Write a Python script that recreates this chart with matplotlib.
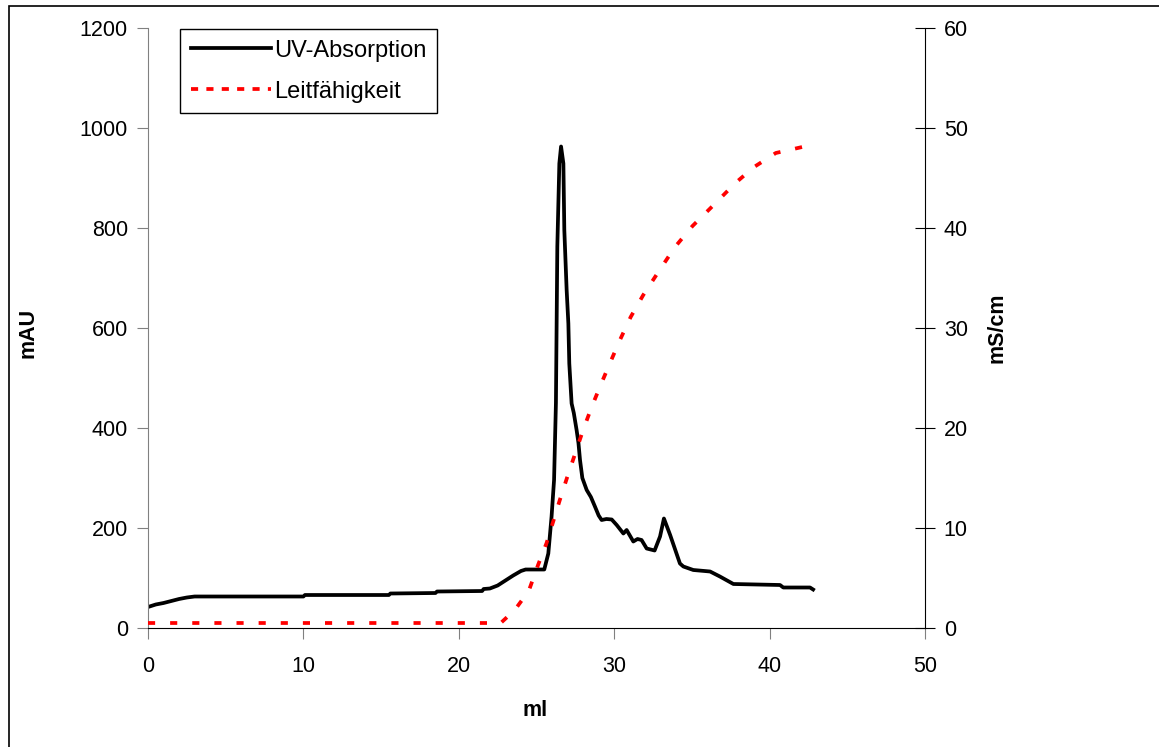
"""Chromatogram: UV absorption and conductivity over elution volume"""

import matplotlib
matplotlib.use("Agg")
import matplotlib.pyplot as plt
from matplotlib.lines import Line2D
from matplotlib.patches import Rectangle

plt.rcParams['font.family'] = ['Liberation Sans', 'DejaVu Sans']

# UV trace (ml, mAU)
uv_ml = [0.0, 0.5, 1.0, 1.5, 2.0, 2.5, 3.0, 10.0, 10.1, 15.5, 15.6, 18.5,
         18.6, 21.5, 21.6, 22.0, 22.5, 23.0, 23.5, 24.0, 24.3, 25.5, 25.76,
         25.97, 26.13, 26.25, 26.34, 26.47, 26.58, 26.73, 26.79, 26.94, 27.05,
         27.11, 27.26, 27.4, 27.58, 27.7, 27.8, 27.95, 28.23, 28.5, 28.76,
         29.0, 29.19, 29.5, 29.84, 30.16, 30.59, 30.8, 31.23, 31.5, 31.76,
         32.09, 32.6, 32.95, 33.2, 33.6, 34.23, 34.45, 35.09, 36.17, 36.8,
         37.67, 40.67, 40.88, 42.6, 42.8]
uv_mau = [42, 47, 50, 54, 58, 61, 63, 63, 66, 66, 69, 70,
          73, 74, 78, 79, 85, 95, 105, 114, 117, 117, 149,
          223, 296, 450, 763, 929, 963, 929, 796, 676, 609,
          529, 449, 430, 396, 370, 336, 300, 276, 262, 243,
          225, 216, 218, 217, 206, 189, 196, 173, 178, 176,
          159, 155, 183, 219, 186, 129, 123, 116, 113, 103,
          88, 86, 81, 81, 77]

# conductivity (ml, mS/cm)
cond_ml = [0.0, 22.7, 23.6, 24.5, 25.1, 25.65, 26.5, 26.98, 27.5, 28.0,
           28.55, 29.13, 29.73, 30.37, 31.06, 31.87, 32.84, 33.91, 35.04,
           36.4, 37.8, 39.0, 40.4, 42.1, 42.5]
cond_ms = [0.5, 0.5, 1.8, 3.7, 6.3, 8.5, 12.8, 15.1, 17.5, 19.8,
           22.1, 24.3, 26.5, 28.8, 31.1, 33.3, 35.6, 38.1, 40.2,
           42.3, 44.5, 46.1, 47.5, 48.1, 48.3]

W, H = 1159, 747
fig = plt.figure(figsize=(W / 100, H / 100), dpi=100)
ax = fig.add_axes([148 / W, 1 - 628 / H, (925 - 148) / W, 600 / H])
ax2 = ax.twinx()

ax.plot(uv_ml, uv_mau, color='black', lw=2.7, solid_joinstyle='round')
ax2.plot(cond_ml, cond_ms, color='red', lw=2.7,
         linestyle=(0, (1.9, 4.0)), dash_capstyle='butt')

ax.set_xlim(0, 50)
ax.set_ylim(0, 1200)
ax2.set_ylim(0, 60)
ax.set_xticks(range(0, 51, 10))
ax.set_yticks(range(0, 1201, 200))
ax2.set_yticks(range(0, 61, 10))

for s in ['top', 'right']:
    ax.spines[s].set_visible(False)
for s in ['top', 'left', 'bottom']:
    ax2.spines[s].set_visible(False)
ax.spines['left'].set_color('#808080')
ax.spines['bottom'].set_color('black')
ax2.spines['right'].set_color('black')

ax.tick_params(axis='y', direction='out', length=8, color='#808080',
               labelsize=15.5, pad=6.5)
ax.tick_params(axis='x', direction='out', length=8, color='#808080',
               labelsize=15.5, pad=12)
ax2.tick_params(axis='y', direction='inout', length=15, color='black',
                labelsize=15.5, pad=6)

fig.text(28 / W, 1 - 333 / H, 'mAU', rotation=90, fontsize=15.5,
         fontweight='bold', ha='center', va='center')
fig.text(997 / W, 1 - 328 / H, 'mS/cm', rotation=90, fontsize=15.5,
         fontweight='bold', ha='center', va='center')
fig.text(535 / W, 1 - 710 / H, 'ml', fontsize=15.5,
         fontweight='bold', ha='center', va='center')

# legend with proxy handles
handles = [Line2D([], [], color='black', lw=2.7),
           Line2D([], [], color='red', lw=2.7, linestyle=(0, (1.9, 2.2)),
                  dash_capstyle='butt')]
leg = ax.legend(handles, ['UV-Absorption', 'Leitfähigkeit'],
                loc='upper left', bbox_to_anchor=(180 / W, 1 - 29 / H),
                bbox_transform=fig.transFigure, fontsize=17,
                fancybox=False, framealpha=1, edgecolor='black',
                handlelength=3.4, handletextpad=0.15, labelspacing=0.8,
                borderpad=0.45, borderaxespad=0)
leg.get_frame().set_linewidth(1.0)

# outer chart frame
fig.patches.append(Rectangle((9 / W, -0.05), 1.1, 1.05 - 6 / H,
                             transform=fig.transFigure, fill=False,
                             edgecolor='black', lw=1.2, figure=fig))

plt.savefig('out.png', dpi=100)
plt.close()
